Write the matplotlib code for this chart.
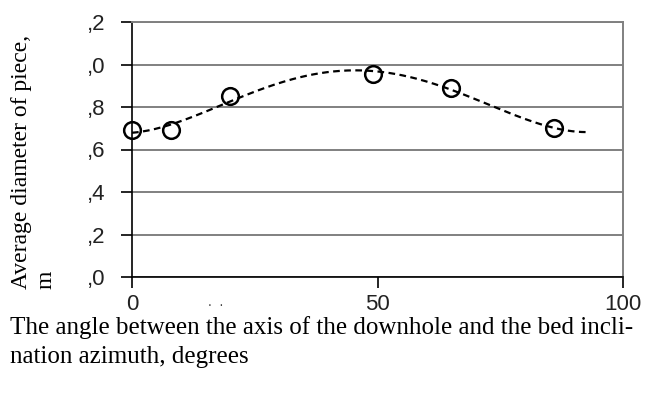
import numpy as np
import matplotlib
matplotlib.use("Agg")
import matplotlib.pyplot as plt

# Data
angle = [0, 8, 20, 49, 65, 86]
diameter = [0.69, 0.69, 0.85, 0.955, 0.89, 0.70]
yticks = [0.0, 0.2, 0.4, 0.6, 0.8, 1.0, 1.2]
ytick_labels = [",0", ",2", ",4", ",6", ",8", ",0", ",2"]
xticks = [0, 50, 100]
xtick_labels = ["0", "50", "100"]
trend_range = (0, 93)
trend_degree = 4

fig = plt.figure(figsize=(6.6, 3.96), dpi=100)
ax = fig.add_axes([132/660, 1-277/396, (623-132)/660, (277-22)/396])

# trend line (polynomial fit, like a spreadsheet trendline)
coef = np.polyfit(angle, diameter, trend_degree)
xs = np.linspace(trend_range[0], trend_range[1], 200)
ax.plot(xs, np.polyval(coef, xs), color="black", lw=1.6, ls=(0, (3, 2)), zorder=3)

ax.plot(angle, diameter, ls="none", marker="o", ms=12, mfc="none", mec="black",
        mew=1.8, zorder=4, clip_on=False)

ax.set_xlim(0, 100)
ax.set_ylim(0, 1.2)
ax.set_yticks(yticks)
ax.set_yticklabels(ytick_labels)
ax.set_xticks(xticks)
ax.set_xticklabels(xtick_labels)
ax.yaxis.grid(True, color="#808080", lw=1.4)
ax.set_axisbelow(True)
for s in ["top", "right"]:
    ax.spines[s].set_color("#808080")
    ax.spines[s].set_linewidth(1.4)
for s in ["left", "bottom"]:
    ax.spines[s].set_color("black")
    ax.spines[s].set_linewidth(1.2)
ax.tick_params(axis="both", direction="out", length=8, width=1.2, color="black",
               labelsize=16)
ax.tick_params(axis="y", pad=11)
ax.tick_params(axis="x", pad=4)
for lab in ax.get_xticklabels() + ax.get_yticklabels():
    lab.set_fontfamily("Liberation Sans")
    lab.set_color("#222222")

fig.text(208/660, 1-302/396, ".  .", fontsize=10, family="Liberation Sans", color="#444444",
         ha="left", va="center")

fig.text(10/660, 1-342/396,
         "The angle between the axis of the downhole and the bed incli-\nnation azimuth, degrees",
         family="Liberation Serif", fontsize=18, ha="left", va="center", linespacing=1.45)

fig.text(34/660, 1-289/396, "Average diameter of piece,\nm", rotation=90,
         family="Liberation Serif", fontsize=17, ha="center", va="bottom",
         multialignment="left", linespacing=1.2)

fig.savefig("out.png", dpi=100)
